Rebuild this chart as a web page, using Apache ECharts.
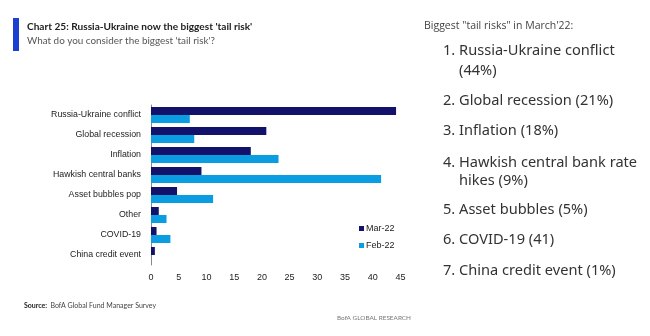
<!DOCTYPE html>
<html><head><meta charset="utf-8">
<script src="https://cdn.jsdelivr.net/npm/echarts@6/dist/echarts.min.js"></script>
<style>html,body{margin:0;padding:0;background:#fff}#c{width:650px;height:336px}</style>
</head><body><div id="c"></div>
<script>
var categories = ['Russia-Ukraine conflict','Global recession','Inflation','Hawkish central banks','Asset bubbles pop','Other','COVID-19','China credit event'];
var mar22 = [44.2, 20.8, 18.0, 9.1, 4.7, 1.4, 1.0, 0.7];
var feb22 = [7.0, 7.8, 23.0, 41.5, 11.2, 2.8, 3.5, 0];
var xTicks = [0,5,10,15,20,25,30,35,40,45];
var listLines = ['1. Russia-Ukraine conflict','(44%)','2. Global recession (21%)','3. Inflation (18%)','4. Hawkish central bank rate','hikes (9%)','5. Asset bubbles (5%)','6. COVID-19 (41)','7. China credit event (1%)'];

var narrow = '"Liberation Sans Narrow", "Liberation Sans", Arial, sans-serif';
var listY = [50, 70, 100, 130, 162, 180, 209, 239, 270];
var listX = [443, 459, 443, 443, 443, 459, 443, 443, 443];
var graphics = [
  {type:'rect', shape:{x:13,y:18,width:6,height:33}, style:{fill:'#1b3fd0'}},
  {type:'text', left:27, top:21.5, style:{text:"Chart 25: Russia-Ukraine now the biggest 'tail risk'", font:'bold 10.1px Lato, sans-serif', fill:'#222'}},
  {type:'text', left:27, top:35.5, style:{text:"What do you consider the biggest 'tail risk'?", font:'9.9px Lato, sans-serif', fill:'#555'}},
  {type:'text', left:424, top:21, style:{text:'Biggest "tail risks" in March\'22:', font:'10.5px "Open Sans", sans-serif', fill:'#444'}},
  {type:'text', left:24, top:300, style:{rich:{b:{font:'bold 7px Lato, sans-serif', fill:'#222'}, n:{font:'7px Lato, sans-serif', fill:'#444'}}, text:'{b|Source:} {n|BofA Global Fund Manager Survey}'}},
  {type:'text', left:337, top:314.5, style:{text:'BofA GLOBAL RESEARCH', font:'6.4px Lato, sans-serif', fill:'#777'}}
];
listLines.forEach(function(t,i){
  graphics.push({type:'text', left:listX[i], top:listY[i]-7, style:{text:t, font:'14.6px "Noto Sans", sans-serif', fill:'#333'}});
});

var chart = echarts.init(document.getElementById('c'), null, {renderer:'canvas'});
chart.setOption({
  animation:false,
  grid:{left:151, right:650-400.5, top:105, bottom:71, containLabel:false},
  legend:{orient:'vertical', left:354, top:219, itemWidth:5, itemHeight:5, itemGap:8, icon:'rect',
    textStyle:{fontFamily:narrow, fontSize:9, color:'#222', padding:[0,0,0,-3]}, data:['Mar-22','Feb-22']},
  xAxis:{type:'value', min:0, max:45, interval:5, axisLine:{show:false}, axisTick:{show:false}, splitLine:{show:false},
    axisLabel:{fontFamily:narrow, fontSize:9, color:'#222', margin:8, formatter:function(v){return xTicks.indexOf(v)>=0?String(v):'';}}},
  yAxis:{type:'category', data:categories, inverse:true, axisLine:{show:true, lineStyle:{color:'#888', width:1}}, axisTick:{show:false},
    axisLabel:{fontFamily:narrow, fontSize:8.8, color:'#222', margin:10}},
  series:[
    {name:'Mar-22', type:'bar', data:mar22, barWidth:8, barGap:'0%', itemStyle:{color:'#12126b'}},
    {name:'Feb-22', type:'bar', data:feb22, barWidth:8, barGap:'0%', itemStyle:{color:'#0a9de2'}}
  ],
  graphic:graphics
});
</script></body></html>
